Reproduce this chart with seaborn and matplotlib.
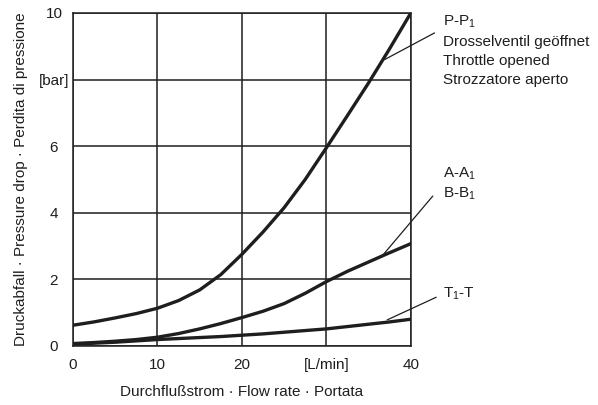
import numpy as np
import pandas as pd
import matplotlib
matplotlib.use("Agg")
import matplotlib.pyplot as plt
import seaborn as sns

# Durchfluss [L/min]
flow = [0, 2.5, 5, 7.5, 10, 12.5, 15, 17.5, 20, 22.5, 25, 27.5, 30, 32.5, 35, 37.5, 40]
# Druckabfall [bar]
dp_pp1 = [0.62, 0.72, 0.84, 0.97, 1.13, 1.36, 1.68, 2.14, 2.75, 3.42, 4.15, 5.00, 5.95, 6.92, 7.90, 8.93, 10.0]
dp_aa1 = [0.07, 0.10, 0.14, 0.19, 0.26, 0.37, 0.51, 0.67, 0.85, 1.04, 1.27, 1.58, 1.93, 2.24, 2.52, 2.80, 3.07]
dp_t1t = [0.05, 0.08, 0.11, 0.15, 0.19, 0.22, 0.25, 0.28, 0.32, 0.36, 0.41, 0.46, 0.51, 0.58, 0.65, 0.72, 0.80]

x_ticks = [0, 10, 20, 30, 40]
x_ticklabels = ['0', '10', '20', '[L/min]', '40']
y_ticks = [0, 2, 4, 6, 8, 10]
y_ticklabels = ['0', '2', '4', '6', '[bar]', '10']

sns.set_style('white')
plt.rcParams['font.family'] = ['Liberation Sans', 'DejaVu Sans']
plt.rcParams['mathtext.fontset'] = 'custom'
plt.rcParams['mathtext.rm'] = 'Liberation Sans'

df = pd.concat([
    pd.DataFrame({'flow': flow, 'dp': dp_pp1, 'curve': 'P-P1'}),
    pd.DataFrame({'flow': flow, 'dp': dp_aa1, 'curve': 'A-A1'}),
    pd.DataFrame({'flow': flow, 'dp': dp_t1t, 'curve': 'T1-T'}),
])

ink = '#1e1e1e'
fs = 11
fig = plt.figure(figsize=(5.98, 4.05), dpi=100)
ax = fig.add_axes([0.122, 0.146, 0.565, 0.822])

sns.lineplot(data=df, x='flow', y='dp', hue='curve', palette=[ink] * 3,
             legend=False, lw=2.4, ax=ax, zorder=3)

ax.set_xlim(0, 40)
ax.set_ylim(0, 10)
ax.set_xticks(x_ticks)
ax.set_xticklabels(x_ticklabels)
ax.set_yticks(y_ticks)
ax.set_yticklabels(y_ticklabels, ha='center')
ax.tick_params(length=0, labelsize=fs, colors=ink)
ax.tick_params(axis='x', pad=9)
ax.tick_params(axis='y', pad=13.7)
ax.grid(True, color=ink, lw=1.1)
for s in ax.spines.values():
    s.set_color(ink)
    s.set_linewidth(1.1)

ax.set_xlabel('Durchflußstrom · Flow rate · Portata', fontsize=fs, color=ink, labelpad=9)
ax.set_ylabel('Druckabfall · Pressure drop · Perdita di pressione', fontsize=fs, color=ink, labelpad=8)

# Beschriftungen rechts
txt = dict(fontsize=fs, color=ink, va='center', ha='left', clip_on=False)
tx = 43.8
ax.text(tx, 9.73, r'P-P$_{\mathregular{1}}$', **txt)
ax.text(tx, 9.13, 'Drosselventil geöffnet', **txt)
ax.text(tx, 8.57, 'Throttle opened', **txt)
ax.text(tx, 7.98, 'Strozzatore aperto', **txt)
ax.text(tx, 5.16, r'A-A$_{\mathregular{1}}$', **txt)
ax.text(tx, 4.56, r'B-B$_{\mathregular{1}}$', **txt)
ax.text(tx, 1.56, r'T$_{\mathregular{1}}$-T', **txt)

lead = dict(color=ink, lw=0.9, clip_on=False)
ax.plot([36.9, 42.8], [8.6, 9.4], **lead)
ax.plot([36.5, 42.6], [2.67, 4.50], **lead)
ax.plot([37.2, 43.0], [0.78, 1.46], **lead)

fig.savefig('out.png', dpi=100)
